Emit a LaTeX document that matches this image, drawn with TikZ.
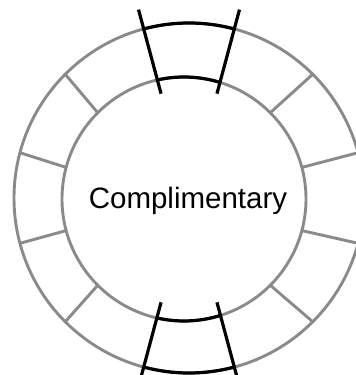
\documentclass[tikz,border=0pt]{standalone}
\usepackage{fontspec}
\setmainfont{Liberation Sans}
\definecolor{ringgray}{HTML}{8A8A8A}
\begin{document}
\begin{tikzpicture}[x=1pt,y=1pt,
  ring/.style={draw=ringgray, line width=2.9pt},
  hl/.style={draw=black, line width=3.2pt}]
\useasboundingbox (0,0) rectangle (356,375);
\coordinate (O) at (189,177);
\coordinate (I) at (184,176);
\draw[ring] (O) circle (175);
\draw[ring] (I) circle (122);
\foreach \a in {15,45,135,165,195,225,315,345}
  \draw[ring] ([shift={(\a:122)}]I) -- ([shift={(\a:175)}]O);
\foreach \a in {75,105,255,285}
  \draw[hl] ([shift={(\a:108)}]O) -- ([shift={(\a:195)}]O);
\draw[hl] ([shift={(75:175)}]O) arc[start angle=75,end angle=105,radius=175];
\draw[hl] ([shift={(255:175)}]O) arc[start angle=255,end angle=285,radius=175];
\draw[hl] ([shift={(72.9:122)}]I) arc[start angle=72.9,end angle=102.7,radius=122];
\draw[hl] ([shift={(257:122)}]I) arc[start angle=257,end angle=287.3,radius=122];
\node (label) at (188,166) [anchor=base, font=\fontsize{29.5}{35}\selectfont, inner sep=0pt] {Complimentary};
\end{tikzpicture}
\end{document}
